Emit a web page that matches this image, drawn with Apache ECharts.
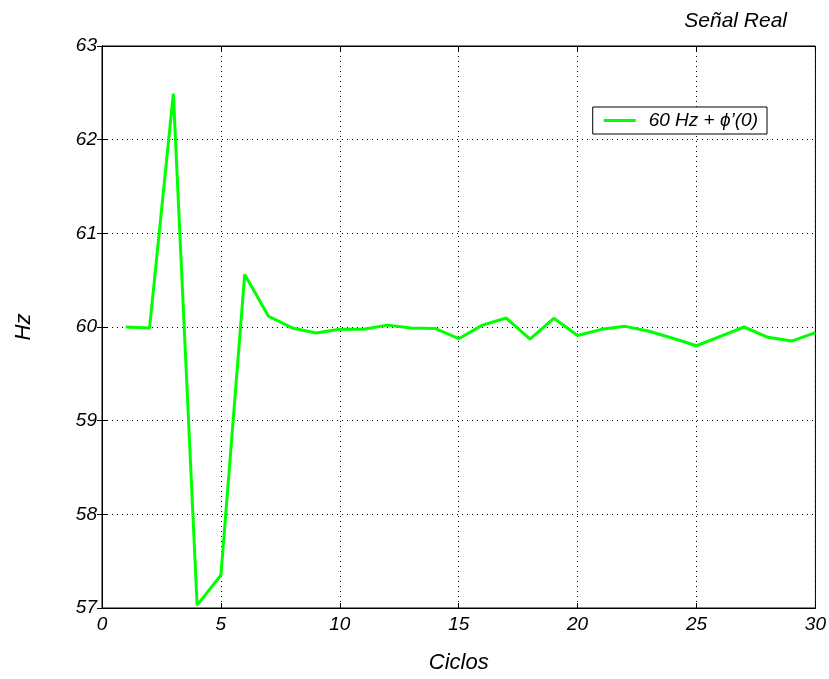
<!DOCTYPE html>
<html>
<head>
<meta charset="utf-8">
<script src="https://cdn.jsdelivr.net/npm/echarts@6/dist/echarts.min.js"></script>
<style>
  html, body { margin: 0; padding: 0; background: #fff; }
  #chart { width: 829px; height: 679px; }
</style>
</head>
<body>
<div id="chart"></div>
<script>
// Instantaneous frequency estimate per cycle
const ciclos = [1,2,3,4,5,6,7,8,9,10,11,12,13,14,15,16,17,18,19,20,21,22,23,24,25,26,27,28,29,30];
const frecuencia = [60.00, 59.99, 62.49, 57.03, 57.35, 60.56, 60.115, 59.99, 59.935, 59.975,
                    59.975, 60.02, 59.99, 59.985, 59.875, 60.02, 60.096, 59.87, 60.093, 59.91,
                    59.975, 60.007, 59.954, 59.88, 59.80, 59.90, 60.00, 59.89, 59.85, 59.94];
const serieNombre = '60 Hz + \u03d5\u2019(0)';
const titulo = 'Señal Real';
const ejeX = 'Ciclos';
const ejeY = 'Hz';

const font = 'Liberation Sans, Arial, sans-serif';
const chart = echarts.init(document.getElementById('chart'));

const dotted = { show: true, lineStyle: { color: '#000', type: [1, 4], width: 1 } };
const labelStyle = { color: '#000', fontSize: 19, fontStyle: 'italic', fontFamily: font };
const nameStyle = { fontSize: 22, fontStyle: 'italic', color: '#000', fontFamily: font };

chart.setOption({
  animation: false,
  backgroundColor: '#fff',
  title: {
    text: titulo, right: 37, top: 6,
    textStyle: { fontSize: 21, fontStyle: 'italic', fontWeight: 'normal', color: '#000', fontFamily: font }
  },
  legend: {
    data: [serieNombre],
    right: 62, top: 107,
    orient: 'vertical',
    backgroundColor: '#fff',
    borderColor: '#000', borderWidth: 1,
    padding: [4, 9, 4, 11],
    itemWidth: 32, itemHeight: 3,
    icon: 'rect',
    itemGap: 0,
    textStyle: { fontSize: 19, fontStyle: 'italic', color: '#000', fontFamily: font, padding: [0, 0, 0, 8] }
  },
  grid: { left: 102, right: 13, top: 46, bottom: 69, show: true, borderColor: '#000', borderWidth: 1, backgroundColor: 'transparent' },
  xAxis: [{
    type: 'value', min: 0, max: 30, interval: 5,
    name: ejeX, nameLocation: 'middle', nameGap: 44,
    nameTextStyle: nameStyle,
    axisLine: { show: true, lineStyle: { color: '#000' } },
    axisTick: { show: true, inside: true, length: 5, lineStyle: { color: '#000' } },
    axisLabel: Object.assign({ margin: 7 }, labelStyle),
    splitLine: dotted
  }, {
    type: 'value', min: 0, max: 30, interval: 5, position: 'top',
    axisLine: { show: true, lineStyle: { color: '#000' } },
    axisTick: { show: true, inside: true, length: 5, lineStyle: { color: '#000' } },
    axisLabel: { show: false }, splitLine: { show: false }
  }],
  yAxis: [{
    type: 'value', min: 57, max: 63, interval: 1,
    name: ejeY, nameLocation: 'middle', nameGap: 67, nameRotate: 90,
    nameTextStyle: nameStyle,
    axisLine: { show: true, lineStyle: { color: '#000' } },
    axisTick: { show: true, inside: true, length: 5, lineStyle: { color: '#000' } },
    axisLabel: Object.assign({ margin: 5 }, labelStyle),
    splitLine: dotted
  }, {
    type: 'value', min: 57, max: 63, interval: 1, position: 'right',
    axisLine: { show: true, lineStyle: { color: '#000' } },
    axisTick: { show: true, inside: true, length: 5, lineStyle: { color: '#000' } },
    axisLabel: { show: false }, splitLine: { show: false }
  }],
  series: [{
    name: serieNombre,
    type: 'line',
    data: ciclos.map((c, i) => [c, frecuencia[i]]),
    showSymbol: false,
    lineStyle: { color: '#00ff00', width: 3 },
    itemStyle: { color: '#00ff00' }
  }]
});
</script>
</body>
</html>
